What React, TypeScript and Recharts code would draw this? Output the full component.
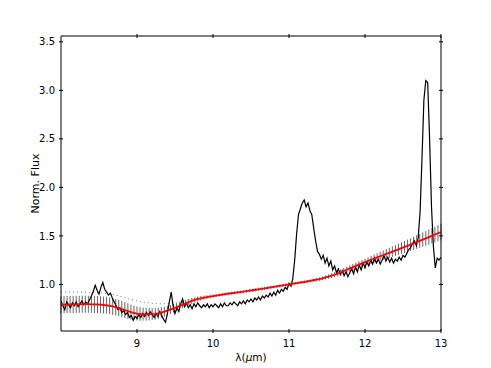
import { LineChart, Line, XAxis, YAxis, ErrorBar, Label } from "recharts";

// observed spectrum, sampled every 0.025 µm from 8.0 to 13.0
const FLUX_START = 8.0;
const FLUX_STEP = 0.025;
const FLUX = [
  0.83, 0.78, 0.74, 0.82, 0.79, 0.76, 0.81, 0.78,
  0.82, 0.77, 0.8, 0.83, 0.79, 0.82, 0.8, 0.84,
  0.88, 0.93, 0.99, 0.94, 0.9, 0.97, 1.02, 0.95,
  0.92, 0.89, 0.91, 0.86, 0.82, 0.78, 0.74, 0.76,
  0.71, 0.73, 0.69, 0.71, 0.66, 0.68, 0.63, 0.67,
  0.65, 0.69, 0.66, 0.7, 0.67, 0.71, 0.68, 0.72,
  0.69, 0.66, 0.7, 0.67, 0.72, 0.68, 0.64, 0.61,
  0.7, 0.82, 0.92, 0.78, 0.7, 0.76, 0.72, 0.8,
  0.85, 0.77, 0.81, 0.76, 0.79, 0.75, 0.8, 0.77,
  0.81, 0.78, 0.76, 0.79, 0.77, 0.8, 0.76, 0.79,
  0.77, 0.8, 0.78, 0.76, 0.8, 0.77, 0.81, 0.78,
  0.78, 0.81, 0.79, 0.82, 0.8, 0.78, 0.82, 0.8,
  0.83, 0.8, 0.84, 0.82, 0.85, 0.82, 0.86, 0.84,
  0.87, 0.84, 0.88, 0.86, 0.89, 0.87, 0.91, 0.88,
  0.92, 0.89, 0.94, 0.91, 0.95, 0.93, 0.97, 0.95,
  1.01, 0.98, 1.06, 1.25, 1.52, 1.72, 1.78, 1.84,
  1.87, 1.8, 1.84, 1.76, 1.72, 1.58, 1.45, 1.34,
  1.31, 1.26, 1.3, 1.22, 1.27, 1.19, 1.24, 1.15,
  1.19, 1.12, 1.16, 1.1, 1.14, 1.09, 1.13, 1.08,
  1.12, 1.16, 1.11, 1.18, 1.13, 1.2, 1.15, 1.22,
  1.17, 1.23, 1.19, 1.25, 1.21, 1.27, 1.22, 1.26,
  1.21, 1.25, 1.3, 1.24, 1.28, 1.23, 1.27, 1.22,
  1.26, 1.24, 1.28, 1.25, 1.3, 1.28, 1.32, 1.36,
  1.38, 1.42, 1.45, 1.4, 1.48, 1.75, 2.3, 2.9,
  3.1, 3.08, 2.5, 1.8, 1.39, 1.17, 1.27, 1.25,
  1.28,
];

// fitted model and its uncertainty, every 0.04 µm
const MODEL_START = 8.0;
const MODEL_STEP = 0.04;
const MODEL = [
  0.79, 0.791, 0.792, 0.793, 0.794,
  0.795, 0.795, 0.796, 0.796, 0.796,
  0.795, 0.794, 0.793, 0.791, 0.788,
  0.785, 0.78, 0.773, 0.765, 0.755,
  0.745, 0.735, 0.725, 0.715, 0.707,
  0.7, 0.696, 0.694, 0.693, 0.693,
  0.694, 0.697, 0.702, 0.71, 0.719,
  0.73, 0.742, 0.754, 0.766, 0.778,
  0.79, 0.804, 0.818, 0.83, 0.84,
  0.85, 0.857, 0.863, 0.869, 0.875,
  0.88, 0.885, 0.89, 0.895, 0.9,
  0.905, 0.909, 0.913, 0.917, 0.921,
  0.925, 0.93, 0.935, 0.94, 0.945,
  0.95, 0.955, 0.96, 0.965, 0.97,
  0.975, 0.98, 0.985, 0.99, 0.995,
  1.0, 1.005, 1.01, 1.015, 1.02,
  1.025, 1.031, 1.037, 1.043, 1.049,
  1.055, 1.063, 1.072, 1.081, 1.09,
  1.1, 1.112, 1.125, 1.138, 1.151,
  1.165, 1.178, 1.191, 1.204, 1.217,
  1.23, 1.242, 1.254, 1.266, 1.278,
  1.29, 1.302, 1.314, 1.326, 1.338,
  1.35, 1.362, 1.374, 1.386, 1.398,
  1.41, 1.423, 1.436, 1.449, 1.462,
  1.475, 1.488, 1.501, 1.514, 1.527,
  1.54,
];
const MODEL_ERR = [
  0.088, 0.088, 0.088, 0.088, 0.088,
  0.088, 0.088, 0.088, 0.088, 0.088,
  0.088, 0.088, 0.088, 0.087, 0.087,
  0.087, 0.086, 0.086, 0.085, 0.085,
  0.084, 0.082, 0.08, 0.078, 0.075,
  0.072, 0.07, 0.068, 0.066, 0.064,
  0.062, 0.06, 0.058, 0.055, 0.052,
  0.05, 0.047, 0.044, 0.041, 0.038,
  0.036, 0.034, 0.032, 0.03, 0.028,
  0.026, 0.024, 0.022, 0.02, 0.018,
  0.016, 0.015, 0.015, 0.015, 0.015,
  0.015, 0.015, 0.015, 0.015, 0.015,
  0.015, 0.015, 0.015, 0.015, 0.015,
  0.015, 0.015, 0.015, 0.015, 0.015,
  0.015, 0.015, 0.015, 0.015, 0.015,
  0.015, 0.015, 0.015, 0.015, 0.015,
  0.015, 0.015, 0.015, 0.016, 0.017,
  0.018, 0.019, 0.02, 0.022, 0.024,
  0.026, 0.028, 0.03, 0.031, 0.032,
  0.033, 0.034, 0.034, 0.035, 0.035,
  0.036, 0.038, 0.04, 0.042, 0.044,
  0.046, 0.048, 0.05, 0.052, 0.054,
  0.056, 0.058, 0.06, 0.062, 0.064,
  0.066, 0.068, 0.07, 0.072, 0.074,
  0.076, 0.078, 0.08, 0.082, 0.084,
  0.086,
];

// dotted continuum, every 0.1 µm
const CONT_X = [8.0, 8.1, 8.2, 8.3, 8.4, 8.5, 8.6, 8.7, 8.8, 8.9, 9.0, 9.1, 9.2, 9.3, 9.4, 9.5, 9.6, 9.7, 9.8, 9.9, 10.0];
const CONT = [0.92, 0.921, 0.921, 0.92, 0.918, 0.914, 0.906, 0.893, 0.872, 0.85, 0.83, 0.815, 0.805, 0.8, 0.803, 0.815, 0.832, 0.845, 0.852, 0.863, 0.878];

const X_TICKS = [9, 10, 11, 12, 13];
const Y_TICKS = [1.0, 1.5, 2.0, 2.5, 3.0, 3.5];

const X_DOMAIN = [8, 13];
const Y_DOMAIN = [0.52, 3.56];

const FONT = "DejaVu Sans, sans-serif";

const fluxData = FLUX.map((f, i) => ({ x: FLUX_START + i * FLUX_STEP, flux: f }));
const modelData = MODEL.map((m, i) => ({ x: MODEL_START + i * MODEL_STEP, model: m, err: MODEL_ERR[i] }));
const contData = CONT_X.map((x, i) => ({ x, cont: CONT[i] }));

const BottomTick = ({ x, y, payload }: any) => (
  <g>
    <line x1={x} x2={x} y1={y} y2={y - 4} stroke="#000" />
    <text x={x} y={y + 14} textAnchor="middle" fontSize={10} fontFamily={FONT} fill="#000">
      {payload.value}
    </text>
  </g>
);

const LeftTick = ({ x, y, payload }: any) => (
  <g>
    <line x1={x} x2={x + 4} y1={y} y2={y} stroke="#000" />
    <text x={x - 4} y={y + 3.6} textAnchor="end" fontSize={10} fontFamily={FONT} fill="#000">
      {Number(payload.value).toFixed(1)}
    </text>
  </g>
);

const TopTick = ({ x, y }: any) => <line x1={x} x2={x} y1={y} y2={y + 4} stroke="#000" />;
const RightTick = ({ x, y }: any) => <line x1={x} x2={x - 4} y1={y} y2={y} stroke="#000" />;

const XLabel = ({ viewBox }: any) => (
  <text
    x={viewBox.x + viewBox.width / 2}
    y={viewBox.y + 30}
    textAnchor="middle"
    fontSize={10.5}
    fontFamily={FONT}
    fill="#000"
  >
    λ(<tspan fontStyle="italic">μ</tspan>m)
  </text>
);

export default function App() {
  return (
    <div style={{ position: "absolute", left: 0, top: 0, width: 491, height: 368, background: "#fff" }}>
      <LineChart width={491} height={368} margin={{ top: 35, right: 0, bottom: 0, left: 0 }}>
        <XAxis
          dataKey="x"
          type="number"
          domain={X_DOMAIN}
          allowDataOverflow
          ticks={X_TICKS}
          height={37}
          tickSize={0}
          tickLine={false}
          tick={<BottomTick />}
          axisLine={{ stroke: "#000" }}
          label={<XLabel />}
        />
        <XAxis
          xAxisId="top"
          orientation="top"
          dataKey="x"
          type="number"
          domain={X_DOMAIN}
          allowDataOverflow
          ticks={X_TICKS}
          height={1}
          tickSize={0}
          tickLine={false}
          tick={<TopTick />}
          axisLine={{ stroke: "#000" }}
        />
        <YAxis
          type="number"
          domain={Y_DOMAIN}
          allowDataOverflow
          ticks={Y_TICKS}
          width={61}
          tickSize={0}
          tickLine={false}
          tick={<LeftTick />}
          axisLine={{ stroke: "#000" }}
        >
          <Label
            value="Norm. Flux"
            angle={-90}
            position="center"
            dx={4.5}
            style={{ fontSize: 11, fontFamily: FONT, fill: "#000" }}
          />
        </YAxis>
        <YAxis
          yAxisId="right"
          orientation="right"
          type="number"
          domain={Y_DOMAIN}
          allowDataOverflow
          ticks={Y_TICKS}
          width={50}
          tickSize={0}
          tickLine={false}
          tick={<RightTick />}
          axisLine={{ stroke: "#000" }}
        />

        <Line data={modelData} dataKey="model" stroke="none" dot={false} isAnimationActive={false}>
          <ErrorBar dataKey="err" width={0} stroke="#666" strokeWidth={1} direction="y" isAnimationActive={false} />
        </Line>
        <Line
          data={contData}
          dataKey="cont"
          stroke="#777"
          strokeWidth={1}
          strokeDasharray="1 3"
          dot={false}
          isAnimationActive={false}
        />
        <Line
          data={fluxData}
          dataKey="flux"
          stroke="#000"
          strokeWidth={1.2}
          dot={false}
          isAnimationActive={false}
        />
        <Line
          data={modelData}
          dataKey="model"
          stroke="#ff0000"
          strokeWidth={1.8}
          dot={false}
          isAnimationActive={false}
        />
      </LineChart>
    </div>
  );
}
